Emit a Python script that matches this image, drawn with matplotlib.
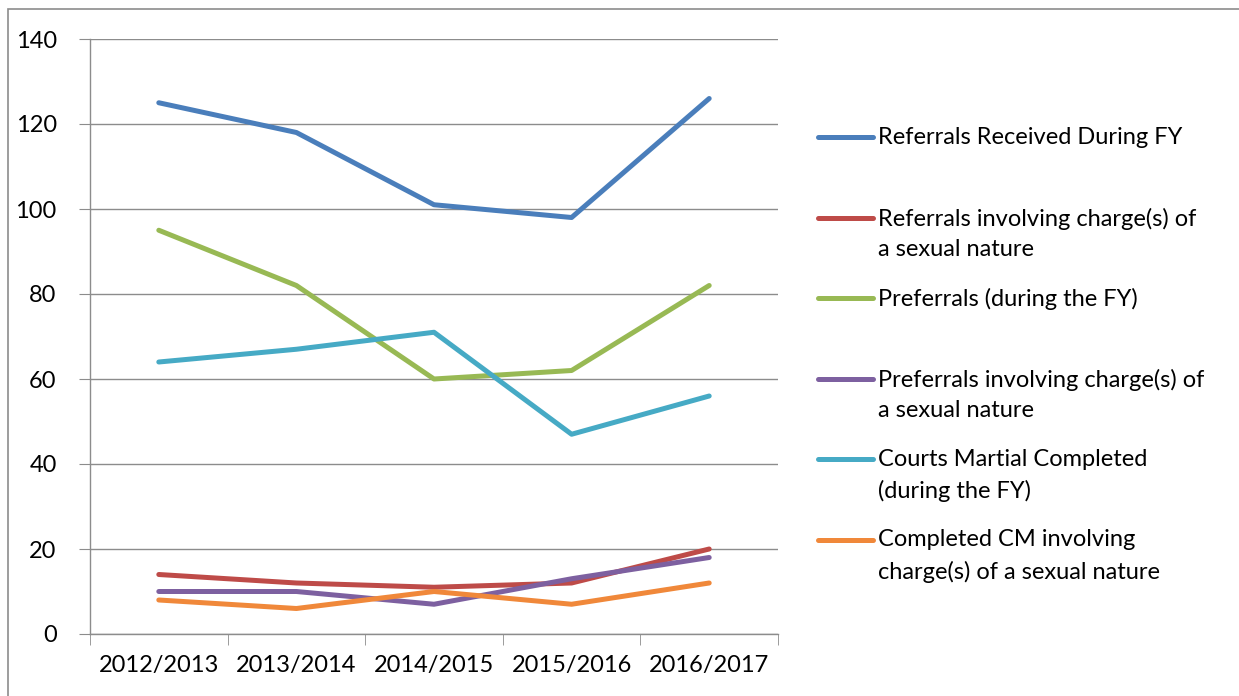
import matplotlib

matplotlib.use("Agg")
import matplotlib.pyplot as plt
from matplotlib.lines import Line2D
from matplotlib.patches import Rectangle

plt.rcParams["font.family"] = ["Lato", "DejaVu Sans"]

years = ["2012/2013", "2013/2014", "2014/2015", "2015/2016", "2016/2017"]
referrals = [125, 118, 101, 98, 126]
referrals_sexual = [14, 12, 11, 12, 20]
preferrals = [95, 82, 60, 62, 82]
preferrals_sexual = [10, 10, 7, 13, 18]
courts_martial = [64, 67, 71, 47, 56]
cm_sexual = [8, 6, 10, 7, 12]

labels = [
    "Referrals Received During FY",
    "Referrals involving charge(s) of\na sexual nature",
    "Preferrals (during the FY)",
    "Preferrals involving charge(s) of\na sexual nature",
    "Courts Martial Completed\n(during the FY)",
    "Completed CM involving\ncharge(s) of a sexual nature",
]
colors = ["#4A7EBB", "#BE4B48", "#98B954", "#7D60A0", "#46AAC5", "#F0883A"]
series = [referrals, referrals_sexual, preferrals, preferrals_sexual, courts_martial, cm_sexual]

W, H = 1239, 696
FS = 17
fig = plt.figure(figsize=(W / 100, H / 100), dpi=100)
ax = fig.add_axes([90 / W, 1 - 634 / H, (778 - 90) / W, (634 - 39) / H])

x = list(range(len(years)))
for vals, col in zip(series, colors):
    ax.plot(x, vals, color=col, lw=3.6, solid_capstyle="round", solid_joinstyle="round")

ax.set_xlim(-0.5, len(years) - 0.5)
ax.set_ylim(0, 140)
ax.set_yticks(range(0, 141, 20))
ax.yaxis.grid(True, color="#8c8c8c", lw=1.0)
ax.set_axisbelow(True)
ax.set_xticks(x)
ax.set_xticklabels(years, fontsize=FS)
ax.set_xticks([i - 0.5 for i in range(len(years) + 1)], minor=True)
ax.tick_params(axis="x", which="major", length=0, pad=15)
ax.tick_params(axis="x", which="minor", length=8, color="#8c8c8c", direction="out")
ax.tick_params(axis="y", length=8, color="#8c8c8c", labelsize=FS, pad=16)
for s in ["top", "right"]:
    ax.spines[s].set_visible(False)
for s in ["left", "bottom"]:
    ax.spines[s].set_color("#8c8c8c")
    ax.spines[s].set_linewidth(1.0)

# manual legend
y0 = 137
step = 80.5
for i, (lab, col) in enumerate(zip(labels, colors)):
    yy = 1 - (y0 + i * step) / H
    fig.add_artist(Line2D([818 / W, 873 / W], [yy, yy], color=col, lw=3.6,
                          solid_capstyle="round", transform=fig.transFigure))
    fig.text(878 / W, yy + 10 / H, lab, fontsize=FS, va="top", ha="left",
             linespacing=1.57)

# outer frame
fig.add_artist(Rectangle((8 / W, -0.1), 1.2, 1 - 9 / H + 0.1, fill=False,
                         edgecolor="#8c8c8c", lw=1.2, transform=fig.transFigure))

fig.savefig("out.png", dpi=100)
